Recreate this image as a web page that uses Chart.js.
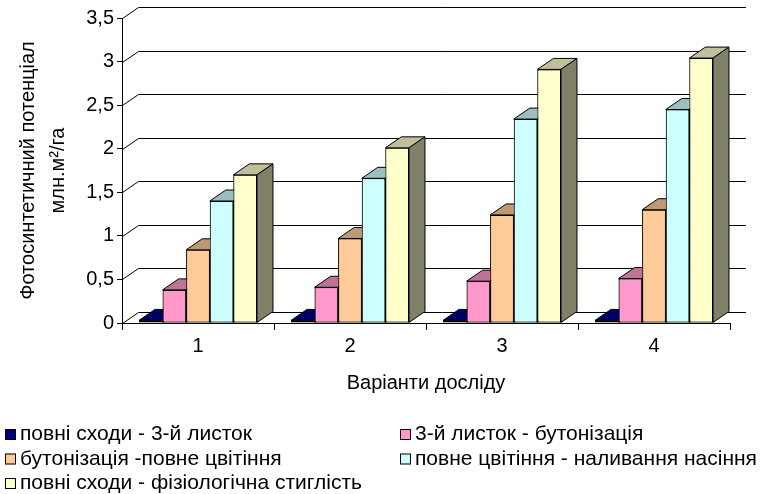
<!DOCTYPE html>
<html>
<head>
<meta charset="utf-8">
<script src="https://cdn.jsdelivr.net/npm/chart.js@4/dist/chart.umd.min.js"></script>
<style>
  html, body { margin: 0; padding: 0; background: #fff; }
  #wrap { width: 765px; height: 494px; position: relative; }
</style>
</head>
<body>
<div id="wrap"><canvas id="c" width="765" height="494"></canvas></div>
<script>
// Варіанти досліду
const categories = ['1', '2', '3', '4'];

// Міжфазні періоди
const seriesNames = [
  'повні сходи - 3-й листок',
  '3-й листок - бутонізація',
  'бутонізація -повне цвітіння',
  'повне цвітіння - наливання насіння',
  'повні сходи - фізіологічна стиглість'
];

// Фотосинтетичний потенціал, млн.м²/га
const sprouts3Leaf    = [0.03, 0.03, 0.03, 0.03];
const leaf3Budding    = [0.38, 0.41, 0.48, 0.51];
const buddingBloom    = [0.84, 0.97, 1.24, 1.30];
const bloomSeedFill   = [1.40, 1.66, 2.34, 2.45];
const sproutsMaturity = [1.70, 2.01, 2.91, 3.04];

const seriesValues = [sprouts3Leaf, leaf3Budding, buddingBloom, bloomSeedFill, sproutsMaturity];
const seriesColors = ['#000080', '#FF99CC', '#FFCC99', '#CCFFFF', '#FFFFCC'];

const FONT = '"Liberation Sans", Arial, sans-serif';
const DEPTH_X = 16, DEPTH_Y = -11;

function shade(hex, k) {
  const n = parseInt(hex.slice(1), 16);
  const r = Math.round(((n >> 16) & 255) * k);
  const g = Math.round(((n >> 8) & 255) * k);
  const b = Math.round((n & 255) * k);
  return 'rgb(' + r + ',' + g + ',' + b + ')';
}

// Back wall and left wall gridlines of the 3D plot box
const wallsPlugin = {
  id: 'walls',
  beforeDatasetsDraw(chart) {
    const {ctx, chartArea, scales} = chart;
    const y = scales.y;
    const L = chartArea.left, R = chartArea.right;
    ctx.save();
    ctx.strokeStyle = '#000';
    ctx.lineWidth = 1;
    y.ticks.forEach(t => {
      const py = Math.round(y.getPixelForValue(t.value)) + 0.5;
      ctx.beginPath();
      ctx.moveTo(L + 0.5, py);
      ctx.lineTo(L + 0.5 + DEPTH_X, py + DEPTH_Y);
      ctx.lineTo(R + DEPTH_X, py + DEPTH_Y);
      ctx.stroke();
    });
    ctx.restore();
  }
};

// Top and side faces of every column, painted left to right inside each group
const extrudePlugin = {
  id: 'extrude',
  afterDatasetsDraw(chart) {
    const {ctx} = chart;
    const metas = seriesValues.map((_, i) => chart.getDatasetMeta(i));
    ctx.save();
    ctx.lineWidth = 1;
    ctx.strokeStyle = '#000';
    ctx.lineJoin = 'miter';
    for (let j = 0; j < categories.length; j++) {
      for (let i = 0; i < metas.length; i++) {
        const bar = metas[i].data[j];
        const {x, y, base, width} = bar.getProps(['x', 'y', 'base', 'width'], true);
        const xl = x - width / 2, xr = x + width / 2;
        const col = seriesColors[i];
        // top
        ctx.beginPath();
        ctx.moveTo(xl, y);
        ctx.lineTo(xr, y);
        ctx.lineTo(xr + DEPTH_X, y + DEPTH_Y);
        ctx.lineTo(xl + DEPTH_X, y + DEPTH_Y);
        ctx.closePath();
        ctx.fillStyle = shade(col, 0.75);
        ctx.fill();
        ctx.stroke();
        // side
        ctx.beginPath();
        ctx.moveTo(xr, y);
        ctx.lineTo(xr + DEPTH_X, y + DEPTH_Y);
        ctx.lineTo(xr + DEPTH_X, base + DEPTH_Y);
        ctx.lineTo(xr, base);
        ctx.closePath();
        ctx.fillStyle = shade(col, 0.5);
        ctx.fill();
        ctx.stroke();
        // the next column's front face sits in front of these faces
        if (i + 1 < metas.length) {
          metas[i + 1].data[j].draw(ctx);
        }
      }
    }
    ctx.restore();
  }
};

// Two-column legend under the plot
const legendPlugin = {
  id: 'legend2col',
  afterDraw(chart) {
    const {ctx} = chart;
    const colX = [5, 400];
    const rowY = [429, 453.5, 478];
    ctx.save();
    ctx.font = '21px ' + FONT;
    ctx.textBaseline = 'alphabetic';
    chart.data.datasets.forEach((ds, i) => {
      const sx = colX[i % 2];
      const sy = rowY[Math.floor(i / 2)];
      ctx.fillStyle = ds.backgroundColor;
      ctx.fillRect(sx, sy, 11, 11);
      ctx.strokeStyle = '#000';
      ctx.lineWidth = 1;
      ctx.strokeRect(sx + 0.5, sy + 0.5, 10, 10);
      ctx.fillStyle = '#000';
      ctx.fillText(ds.label, sx + 15, sy + 11);
    });
    ctx.restore();
  }
};

new Chart(document.getElementById('c'), {
  type: 'bar',
  data: {
    labels: categories,
    datasets: seriesValues.map((vals, i) => ({
      label: seriesNames[i],
      data: vals,
      backgroundColor: seriesColors[i],
      borderColor: '#000',
      borderWidth: 1,
      borderSkipped: false,
      barPercentage: 1,
      categoryPercentage: 0.776
    }))
  },
  options: {
    responsive: false,
    devicePixelRatio: 1,
    animation: false,
    layout: { padding: { top: 18, right: 35, bottom: 99, left: 0 } },
    plugins: { legend: { display: false }, tooltip: { enabled: false } },
    scales: {
      x: {
        grid: { display: true, drawOnChartArea: false, drawTicks: true, tickLength: 7, color: '#000', offset: true },
        border: { display: true, color: '#000', width: 1 },
        ticks: { color: '#000', font: { family: FONT, size: 20 }, padding: 4, maxRotation: 0 },
        title: { display: true, text: 'Варіанти досліду', color: '#000', font: { family: FONT, size: 20 }, padding: { top: 0, bottom: 0 } },
        afterFit(scale) { scale.height = 72; }
      },
      y: {
        min: 0,
        max: 3.5,
        grid: { display: true, drawOnChartArea: false, drawTicks: true, tickLength: 5, color: '#000' },
        border: { display: true, color: '#000', width: 1 },
        ticks: {
          stepSize: 0.5,
          color: '#000',
          padding: 3,
          font: { family: FONT, size: 20 },
          callback: v => String(v).replace('.', ',')
        },
        title: {
          display: true,
          text: ['Фотосинтетичний потенціал', 'млн.м²/га'],
          color: '#000',
          font: { family: FONT, size: 20, lineHeight: 1.5 },
          padding: { top: 13, bottom: 0 }
        },
        afterFit(scale) { scale.width = 122; }
      }
    }
  },
  plugins: [wallsPlugin, extrudePlugin, legendPlugin]
});
</script>
</body>
</html>
